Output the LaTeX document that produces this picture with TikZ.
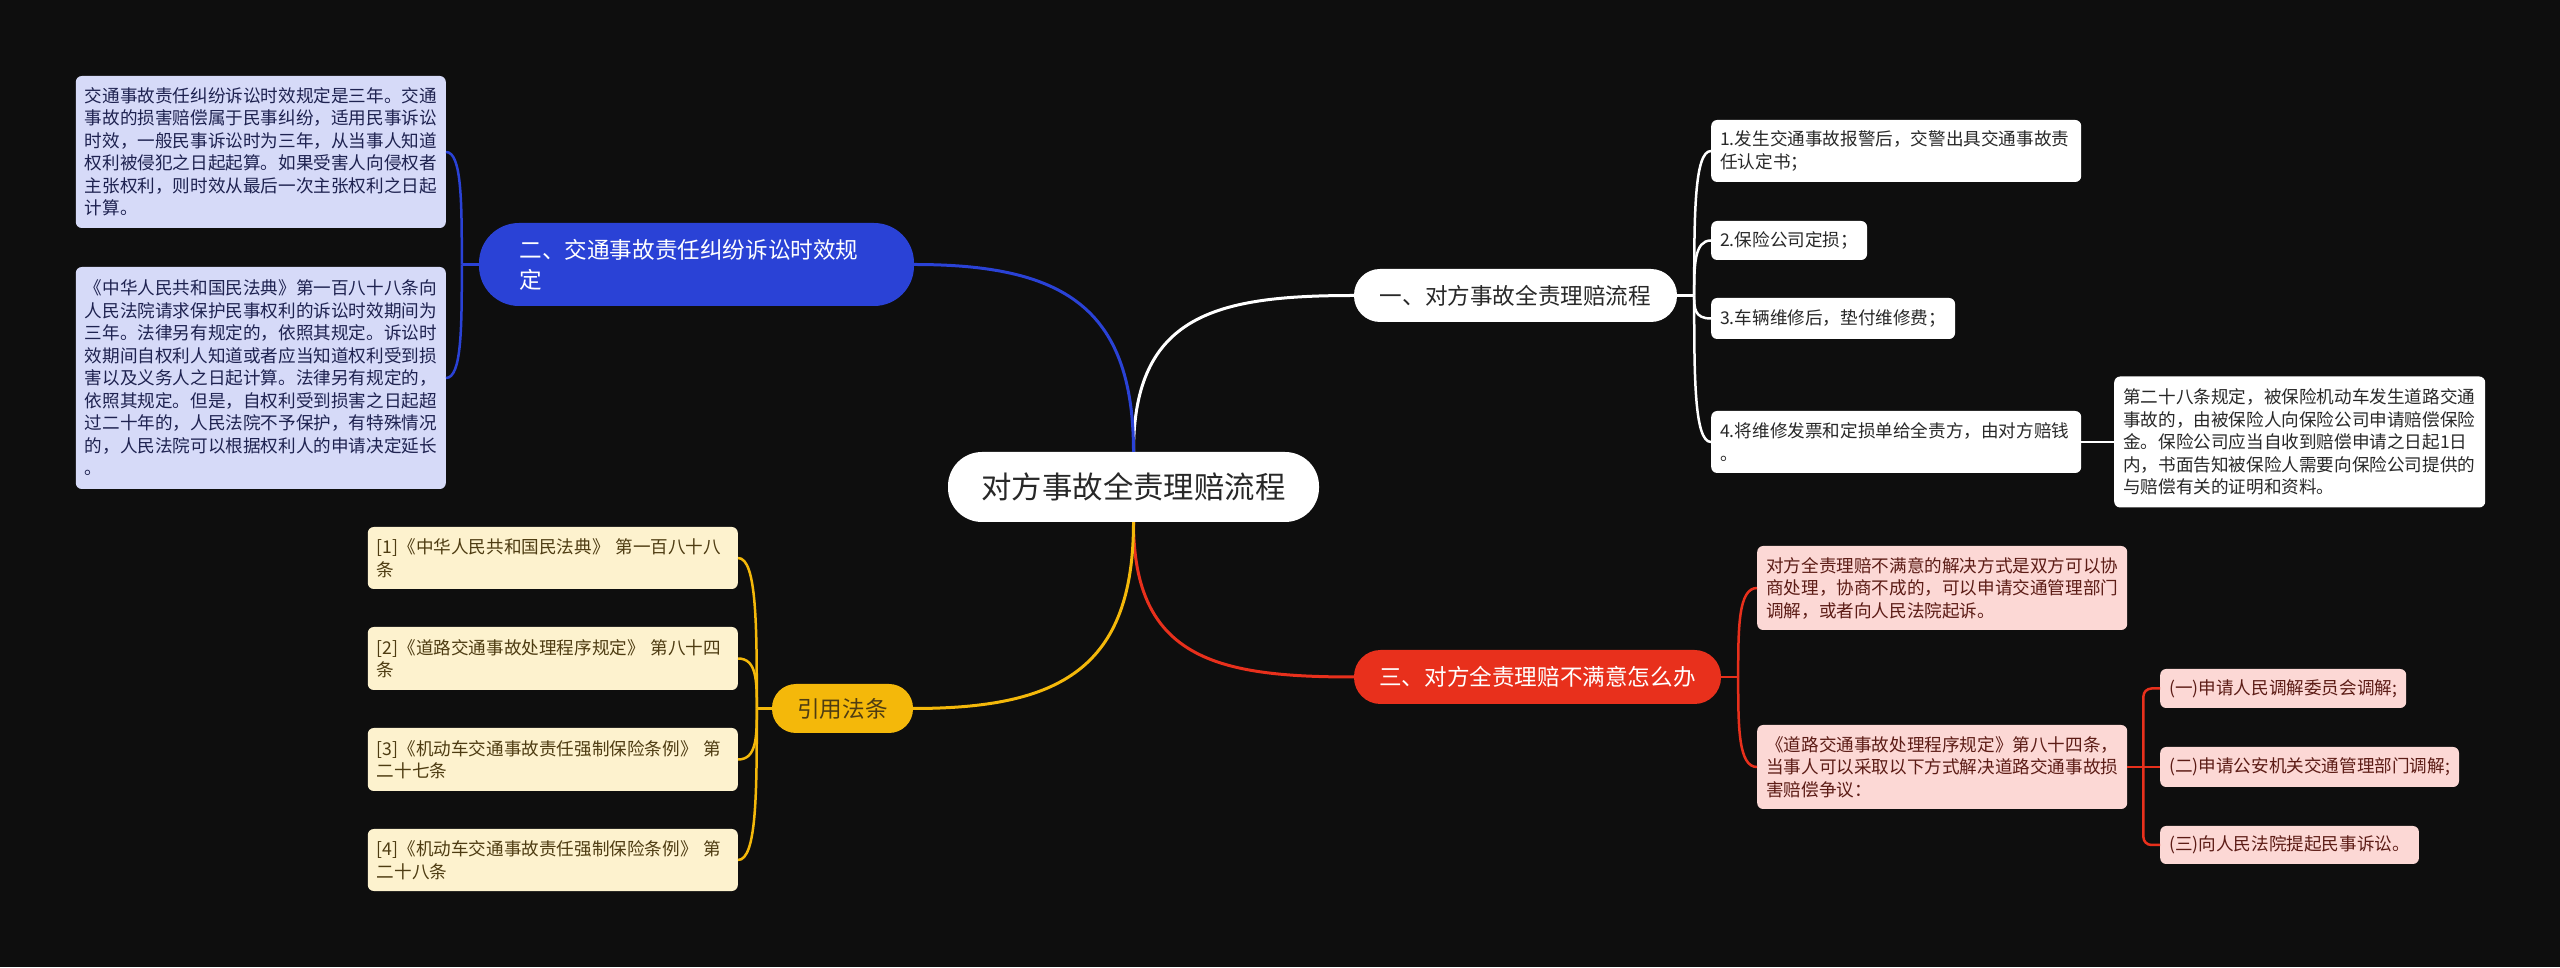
\documentclass[tikz,border=0pt]{standalone}
\usepackage{fontspec}
\setmainfont{Noto Sans CJK SC}
\usetikzlibrary{calc}
\definecolor{mbg}{RGB}{14,14,14}
\definecolor{mblue}{RGB}{42,66,214}
\definecolor{mred}{RGB}{232,48,28}
\definecolor{myellow}{RGB}{244,184,10}
\definecolor{mlav}{RGB}{214,218,248}
\definecolor{mpink}{RGB}{252,216,213}
\definecolor{mcream}{RGB}{253,242,206}
\definecolor{mnavy}{RGB}{30,34,80}
\definecolor{mmaroon}{RGB}{92,28,22}
\definecolor{mbrown}{RGB}{78,60,18}
\definecolor{mtext}{RGB}{40,40,40}
\newcommand{\leafline}[3]{\draw[#1] (#2) .. controls ($(#2)!0.55!(#2|-#3)$) and (#2|-#3) .. (#3);}

\begin{document}
\begin{tikzpicture}[x=1pt,y=1pt,
    leaf/.style={rounded corners=6pt,inner xsep=9pt,inner ysep=0pt,align=left,font=\fontsize{17.6}{22.5}\selectfont},
    topic/.style={inner sep=0pt,font=\fontsize{22.6}{30}\selectfont},
    wline/.style={white,line width=2.5pt},
    bline/.style={mblue,line width=2.5pt},
    rline/.style={mred,line width=2.5pt},
    yline/.style={myellow,line width=2.5pt}]
    \fill[mbg] (0,0) rectangle (2560,967);
    \useasboundingbox (0,0) rectangle (2560,967);
    % centre and main topics
    \node[fill=white,text=mtext,inner sep=0pt,rounded corners=34pt,minimum width=371pt,minimum height=70pt,font=\fontsize{30.4}{36}\selectfont] (root) at (1133.5,480) {对方事故全责理赔流程};
    \node[topic,fill=white,text=mtext,rounded corners=26pt,minimum width=323pt,minimum height=53pt] (b1) at (1515.5,671.5) {一、对方事故全责理赔流程};
    \node[topic,fill=mblue,text=white,rounded corners=40pt,text width=354pt,inner xsep=40.5pt,minimum height=83pt,align=left] (b2) at (696.5,702.5) {二、交通事故责任纠纷诉讼时效规\\定};
    \node[topic,fill=mred,text=white,rounded corners=26.5pt,minimum width=367pt,minimum height=54pt] (b3) at (1537.5,290) {三、对方全责理赔不满意怎么办};
    \node[topic,fill=myellow,text=mbrown,rounded corners=24pt,minimum width=141pt,minimum height=49pt] (b4) at (842.5,258.5) {引用法条};
    \draw[white,line width=3pt] (root.north) to[out=90,in=180,looseness=1.3] (b1.west);
    \draw[mblue,line width=3pt] (root.north) to[out=90,in=0,looseness=1.3] (b2.east);
    \draw[mred,line width=3pt] (root.south) to[out=-90,in=180,looseness=1.3] (b3.west);
    \draw[myellow,line width=3pt] (root.south) to[out=-90,in=0,looseness=1.3] (b4.east);
    % branch one
    \node[leaf,fill=white,text=mtext,text width=352pt,minimum height=62pt,anchor=west] (l1) at (1711,816) {1.发生交通事故报警后，交警出具交通事故责\\任认定书；};
    \node[leaf,fill=white,text=mtext,minimum height=39pt,anchor=west] (l2) at (1711,726.5) {2.保险公司定损；};
    \node[leaf,fill=white,text=mtext,minimum height=41pt,anchor=west] (l3) at (1711,648.5) {3.车辆维修后，垫付维修费；};
    \node[leaf,fill=white,text=mtext,text width=352pt,minimum height=62pt,anchor=west] (l4) at (1711,525) {4.将维修发票和定损单给全责方，由对方赔钱\\。};
    \node[leaf,fill=white,text=mtext,text width=353pt,minimum height=131pt,anchor=west] (l4c) at (2114,525) {第二十八条规定，被保险机动车发生道路交通\\事故的，由被保险人向保险公司申请赔偿保险\\金。保险公司应当自收到赔偿申请之日起1日\\内，书面告知被保险人需要向保险公司提供的\\与赔偿有关的证明和资料。};
    \path (b1.east) ++(17,0) coordinate (s1);
    \draw[wline] (b1.east) -- (s1);
    \foreach \n in {l1,l2,l3,l4}{\leafline{wline}{s1}{\n.west}}
    \draw[wline] (l4.east) -- (l4c.west);
    % branch two
    \node[leaf,fill=mlav,text=mnavy,text width=352pt,minimum height=152pt,anchor=east] (m1) at (446,815) {交通事故责任纠纷诉讼时效规定是三年。交通\\事故的损害赔偿属于民事纠纷，适用民事诉讼\\时效，一般民事诉讼时为三年，从当事人知道\\权利被侵犯之日起起算。如果受害人向侵权者\\主张权利，则时效从最后一次主张权利之日起\\计算。};
    \node[leaf,fill=mlav,text=mnavy,text width=352pt,minimum height=222pt,anchor=east] (m2) at (446,589) {《中华人民共和国民法典》第一百八十八条向\\人民法院请求保护民事权利的诉讼时效期间为\\三年。法律另有规定的，依照其规定。诉讼时\\效期间自权利人知道或者应当知道权利受到损\\害以及义务人之日起计算。法律另有规定的，\\依照其规定。但是，自权利受到损害之日起超\\过二十年的，人民法院不予保护，有特殊情况\\的，人民法院可以根据权利人的申请决定延长\\。};
    \path (b2.west) ++(-17,0) coordinate (s2);
    \draw[bline] (b2.west) -- (s2);
    \foreach \n in {m1,m2}{\leafline{bline}{s2}{\n.east}}
    % branch three
    \node[leaf,fill=mpink,text=mmaroon,text width=352pt,minimum height=84pt,anchor=west] (r1) at (1757,379) {对方全责理赔不满意的解决方式是双方可以协\\商处理，协商不成的，可以申请交通管理部门\\调解，或者向人民法院起诉。};
    \node[leaf,fill=mpink,text=mmaroon,text width=352pt,minimum height=84pt,anchor=west] (r2) at (1757,200) {《道路交通事故处理程序规定》第八十四条，\\当事人可以采取以下方式解决道路交通事故损\\害赔偿争议：};
    \node[leaf,fill=mpink,text=mmaroon,minimum height=39pt,anchor=west] (c1) at (2160,278.5) {(一)申请人民调解委员会调解;};
    \node[leaf,fill=mpink,text=mmaroon,minimum height=40pt,anchor=west] (c2) at (2160,200) {(二)申请公安机关交通管理部门调解;};
    \node[leaf,fill=mpink,text=mmaroon,minimum height=38pt,anchor=west] (c3) at (2160,122) {(三)向人民法院提起民事诉讼。};
    \path (b3.east) ++(17,0) coordinate (s3);
    \draw[rline] (b3.east) -- (s3);
    \foreach \n in {r1,r2}{\leafline{rline}{s3}{\n.west}}
    \path (r2.east) ++(16,0) coordinate (s5);
    \draw[rline] (r2.east) -- (c2.west);
    \draw[rline,rounded corners=8pt] (s5) |- (c1.west);
    \draw[rline,rounded corners=8pt] (s5) |- (c3.west);
    % branch four
    \node[leaf,fill=mcream,text=mbrown,text width=352pt,minimum height=62pt,anchor=east] (y1) at (738,409) {[1]《中华人民共和国民法典》 第一百八十八\\条};
    \node[leaf,fill=mcream,text=mbrown,text width=352pt,minimum height=63pt,anchor=east] (y2) at (738,308.5) {[2]《道路交通事故处理程序规定》 第八十四\\条};
    \node[leaf,fill=mcream,text=mbrown,text width=352pt,minimum height=63pt,anchor=east] (y3) at (738,207.5) {[3]《机动车交通事故责任强制保险条例》 第\\二十七条};
    \node[leaf,fill=mcream,text=mbrown,text width=352pt,minimum height=62pt,anchor=east] (y4) at (738,107) {[4]《机动车交通事故责任强制保险条例》 第\\二十八条};
    \path (b4.west) ++(-15,0) coordinate (s4);
    \draw[yline] (b4.west) -- (s4);
    \foreach \n in {y1,y2,y3,y4}{\leafline{yline}{s4}{\n.east}}
\end{tikzpicture}
\end{document}
